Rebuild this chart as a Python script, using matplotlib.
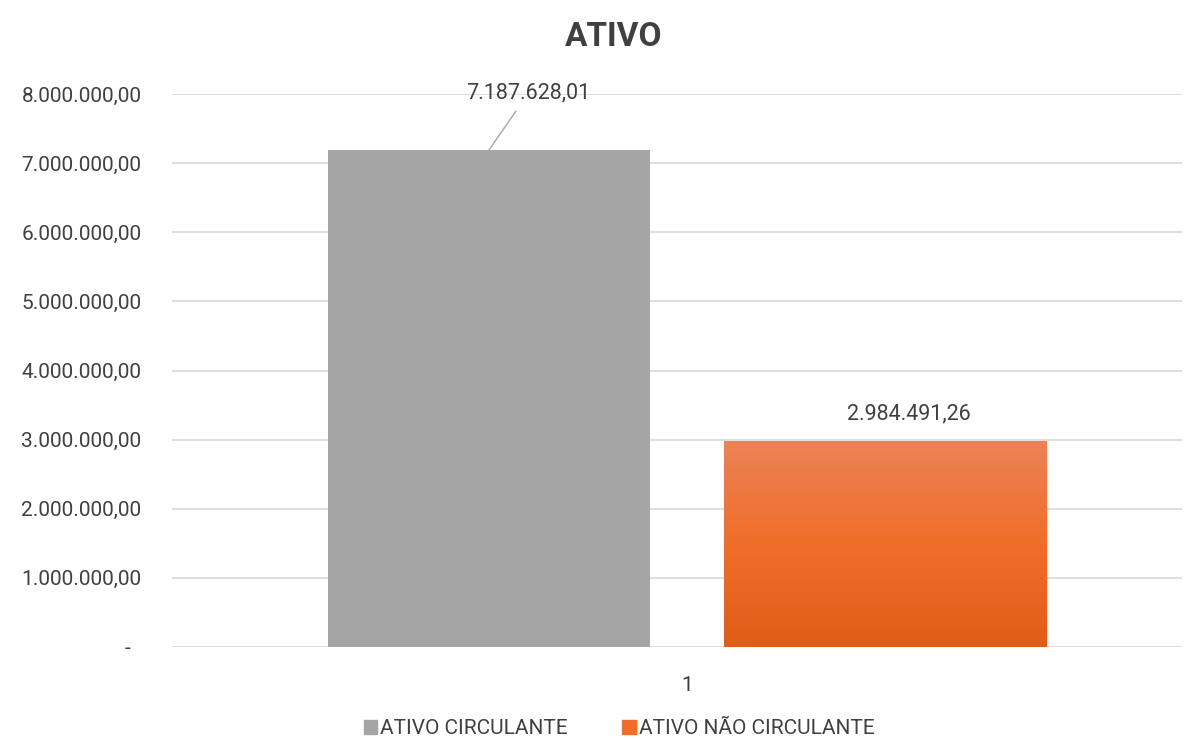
import numpy as np
import matplotlib.pyplot as plt
from matplotlib.patches import Patch
from matplotlib.colors import LinearSegmentedColormap

plt.rcParams['font.family'] = ['Roboto', 'DejaVu Sans']

series = ["ATIVO CIRCULANTE", "ATIVO NÃO CIRCULANTE"]
values = [7187628.01, 2984491.26]
category = "1"
yticks = [0, 1e6, 2e6, 3e6, 4e6, 5e6, 6e6, 7e6, 8e6]


def br(v):
    s = f"{v:,.2f}"
    return s.replace(",", "X").replace(".", ",").replace("X", ".")


fig = plt.figure(figsize=(11.94, 7.39), dpi=100)
ax = fig.add_axes([172 / 1194, 1 - 647 / 739, (1182 - 172) / 1194, (647 - 94) / 739])

pos = [-0.5, 0.5]
width = 0.813
gray = "#A5A5A5"
bars = ax.bar(pos, values, width=width, color=[gray, "none"], zorder=3)

# gradient fill for the orange bar
cmap = LinearSegmentedColormap.from_list("og", ["#E05D18", "#F06E2A", "#EC8258"])
b = bars[1]
grad = np.linspace(0, 1, 256).reshape(-1, 1)
im = ax.imshow(grad, cmap=cmap, origin="lower", aspect="auto",
               extent=[b.get_x(), b.get_x() + width, 0, values[1]], zorder=3)
im.set_clip_path(b)

ax.set_xlim(-1.30, 1.25)
ax.set_ylim(0, 8e6)
ax.set_yticks(yticks)
ax.set_yticklabels(["-  "] + [br(v) for v in yticks[1:]])
ax.set_xticks([0])
ax.set_xticklabels([category])
ax.tick_params(axis="both", length=0, labelsize=15, colors="#404040")
ax.tick_params(axis="y", pad=22)
ax.tick_params(axis="x", pad=21)
ax.grid(axis="y", color="#D9D9D9", linewidth=1.2, zorder=0)
for s in ax.spines.values():
    s.set_visible(False)

ax.annotate(br(values[0]), xy=(-0.5, values[0]), xytext=(-0.4, 7.86e6),
            ha="center", va="bottom", fontsize=15.5, color="#404040",
            arrowprops=dict(arrowstyle="-", color="#A6A6A6", lw=1, shrinkA=4, shrinkB=0))
ax.text(0.56, values[1] + 2.3e5, br(values[1]), ha="center", va="bottom",
        fontsize=15.5, color="#404040")

fig.text(614 / 1194, 1 - 37 / 739, "ATIVO", ha="center", va="center",
         fontsize=24, fontweight="bold", color="#404040")

handles = [Patch(color=gray), Patch(color="#F06E2A")]
fig.legend(handles, series, loc="center", bbox_to_anchor=(619 / 1194, 1 - 729 / 739),
           ncol=2, frameon=False, fontsize=15, handlelength=0.65, handleheight=0.65,
           handletextpad=0.15, columnspacing=2.6, labelcolor="#404040")

fig.savefig("out.png", dpi=100)
